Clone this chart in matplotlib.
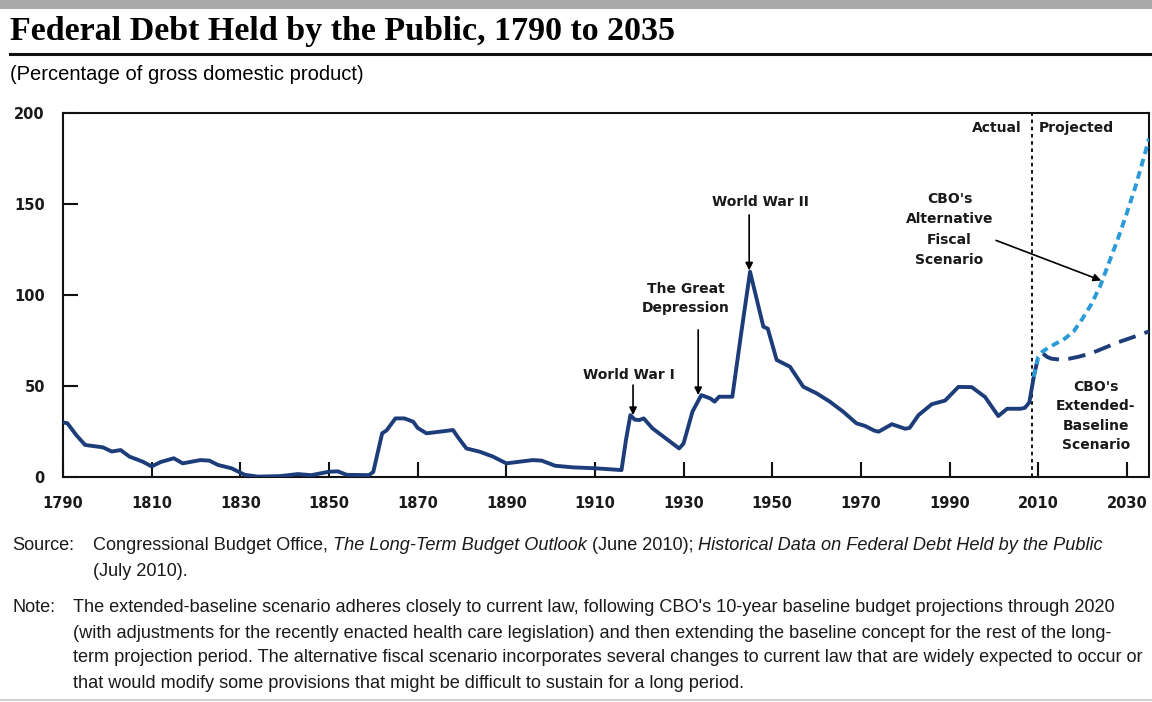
import matplotlib
matplotlib.use("Agg")
import matplotlib.pyplot as plt
from matplotlib.lines import Line2D
from matplotlib.patches import Rectangle

W, H = 1152, 702

# debt held by the public, percent of GDP
hist_years = [1790, 1791, 1793, 1795, 1799, 1801, 1803, 1805, 1808, 1810, 1812, 1815,
              1817, 1821, 1823, 1825, 1828, 1831, 1834, 1839, 1843, 1846, 1850, 1852,
              1854, 1859, 1860, 1862, 1863, 1865, 1867, 1869, 1870, 1872, 1875, 1878,
              1879, 1881, 1884, 1887, 1890, 1893, 1896, 1898, 1901, 1905, 1910, 1916,
              1917, 1918, 1919, 1920, 1921, 1923, 1926, 1929, 1930, 1932, 1934, 1936,
              1937, 1938, 1941, 1943, 1945, 1948, 1949, 1951, 1954, 1957, 1960, 1963,
              1966, 1969, 1971, 1973, 1974, 1977, 1980, 1981, 1983, 1986, 1989, 1992,
              1995, 1998, 2001, 2003, 2006, 2007, 2008, 2009]
hist_debt = [30.0, 29.5, 23.0, 17.6, 16.3, 14.0, 14.8, 11.2, 8.4, 5.8, 8.2, 10.3,
             7.5, 9.3, 9.0, 6.6, 4.8, 1.2, 0.2, 0.5, 1.6, 1.0, 2.9, 3.1,
             1.2, 1.0, 2.8, 24.0, 25.6, 32.2, 32.2, 30.4, 27.0, 24.0, 24.9, 25.8,
             22.2, 15.7, 13.9, 11.2, 7.5, 8.4, 9.3, 9.0, 6.2, 5.3, 4.8, 3.8,
             20.3, 34.0, 31.5, 31.3, 32.2, 26.7, 21.2, 15.7, 18.4, 35.9, 45.0, 43.2,
             41.4, 44.1, 44.1, 79.0, 112.8, 82.6, 81.5, 64.3, 60.6, 49.6, 46.0, 41.4,
             35.9, 29.5, 28.0, 25.5, 24.9, 29.0, 26.5, 27.0, 34.0, 40.0, 42.0, 49.5,
             49.4, 44.0, 33.5, 37.5, 37.5, 38.0, 41.0, 55.0]

alt_years = [2009, 2010, 2011, 2013, 2016, 2018, 2020, 2022, 2024, 2026, 2028, 2030,
             2032, 2034, 2035]
alt_debt = [55.0, 66.0, 69.0, 72.0, 76.0, 80.0, 87.0, 95.0, 105.0, 118.0, 131.0, 145.0,
            160.0, 177.0, 186.0]

ext_years = [2009, 2010, 2011, 2012, 2013, 2015, 2017, 2019, 2022, 2025, 2028, 2031, 2035]
ext_debt = [55.0, 66.0, 68.0, 66.0, 65.0, 64.5, 65.0, 66.0, 68.0, 71.0, 74.0, 76.5, 80.0]

x_ticks = list(range(1790, 2031, 20))
y_ticks = [0, 50, 100, 150, 200]

NAVY = '#1d3d7a'
SKY = '#2b9ad8'
BODY = ['Liberation Sans Narrow', 'Liberation Sans', 'DejaVu Sans']
LABEL = ['DejaVu Sans']


def fx(px):
    return px / W


def fy(py):
    return 1 - py / H


fig = plt.figure(figsize=(W / 100, H / 100), dpi=100)

# header rules
fig.add_artist(Rectangle((0, fy(9)), 1, 9 / H, transform=fig.transFigure,
                         facecolor='#a8a8a8', edgecolor='none'))
fig.add_artist(Line2D([fx(10), 1], [fy(54), fy(54)], transform=fig.transFigure,
                      color='#111111', lw=2.2))
fig.add_artist(Line2D([0, 1], [fy(700), fy(700)], transform=fig.transFigure,
                      color='#c8c8c8', lw=1.2))

fig.text(fx(10), fy(40), 'Federal Debt Held by the Public, 1790 to 2035',
         family='Liberation Serif', weight='bold', size=24.5, va='baseline')
fig.text(fx(10), fy(75), '(Percentage of gross domestic product)',
         family=BODY, size=14.5, va='center')

ax = fig.add_axes([fx(63), fy(477), (1149 - 63) / W, (477 - 113) / H])
ax.plot(hist_years, hist_debt, color=NAVY, lw=2.8, solid_capstyle='round',
        solid_joinstyle='round', zorder=3)
ax.plot(ext_years, ext_debt, color=NAVY, lw=2.8, linestyle=(0, (4.5, 2.4)), zorder=3)
ax.plot(alt_years, alt_debt, color=SKY, lw=2.8, linestyle=(0, (2.0, 1.3)), zorder=4)

ax.axvline(2008.6, color='black', lw=1.3, linestyle=(0, (2, 2)), zorder=2)

ax.set_xlim(1790, 2035)
ax.set_ylim(0, 200)
ax.set_xticks(x_ticks)
ax.set_yticks(y_ticks)
ax.tick_params(direction='in', length=11, width=1.5, color='#111111')
ax.tick_params(axis='x', pad=14)
ax.tick_params(axis='y', pad=13)
for lab in ax.get_xticklabels() + ax.get_yticklabels():
    lab.set_family(LABEL)
    lab.set_weight('bold')
    lab.set_size(10.5)
    lab.set_color('#1a1a1a')
for sp in ax.spines.values():
    sp.set_linewidth(1.5)
    sp.set_color('#111111')

ann = dict(family=LABEL, weight='bold', size=10, ha='center', va='center',
           color='#1a1a1a')
arrow = dict(arrowstyle='-|>', color='black', lw=1.2, mutation_scale=11,
             shrinkA=0, shrinkB=0)

ax.annotate('', xy=(1918.6, 34), xytext=(1918.6, 50.5), arrowprops=arrow)
ax.text(1917.7, 56, 'World War I', **ann)

ax.annotate('', xy=(1933.3, 45), xytext=(1933.3, 80.8), arrowprops=arrow)
ax.text(1930.5, 98, 'The Great\nDepression', linespacing=1.5, **ann)

ax.annotate('', xy=(1944.8, 113.5), xytext=(1944.8, 144), arrowprops=arrow)
ax.text(1947.4, 151, 'World War II', **ann)

ax.text(2006.3, 192, 'Actual', ha='right', va='center', family=LABEL,
        weight='bold', size=10, color='#1a1a1a')
ax.text(2010.2, 192, 'Projected', ha='left', va='center', family=LABEL,
        weight='bold', size=10, color='#1a1a1a')

ax.text(1990, 136, "CBO's\nAlternative\nFiscal\nScenario", linespacing=1.55, **ann)
ax.annotate('', xy=(2024.2, 108), xytext=(2000.5, 130), arrowprops=arrow)

ax.text(2023, 33.5, "CBO's\nExtended-\nBaseline\nScenario", linespacing=1.5, **ann)

# source and note
renderer = fig.canvas.get_renderer()


def rich_line(x_px, y_px, parts, size=13.1):
    x = x_px
    for s, style in parts:
        t = fig.text(fx(x), fy(y_px), s, family=BODY, style=style, size=size,
                     va='center', color='#1a1a1a')
        x += t.get_window_extent(renderer).width


rich_line(12, 546, [('Source:', 'normal')])
rich_line(93, 546, [('Congressional Budget Office, ', 'normal'),
                    ('The Long-Term Budget Outlook', 'italic'),
                    (' (June 2010); ', 'normal'),
                    ('Historical Data on Federal Debt Held by the Public', 'italic')])
rich_line(93, 572, [('(July 2010).', 'normal')])

note_lines = [
    "The extended-baseline scenario adheres closely to current law, following CBO's "
    "10-year baseline budget projections through 2020",
    "(with adjustments for the recently enacted health care legislation) and then "
    "extending the baseline concept for the rest of the long-",
    "term projection period. The alternative fiscal scenario incorporates several "
    "changes to current law that are widely expected to occur or",
    "that would modify some provisions that might be difficult to sustain for a long period.",
]
rich_line(12, 608, [('Note:', 'normal')])
for i, line in enumerate(note_lines):
    rich_line(73, 608 + 25 * i, [(line, 'normal')])

fig.savefig('out.png', dpi=100)
